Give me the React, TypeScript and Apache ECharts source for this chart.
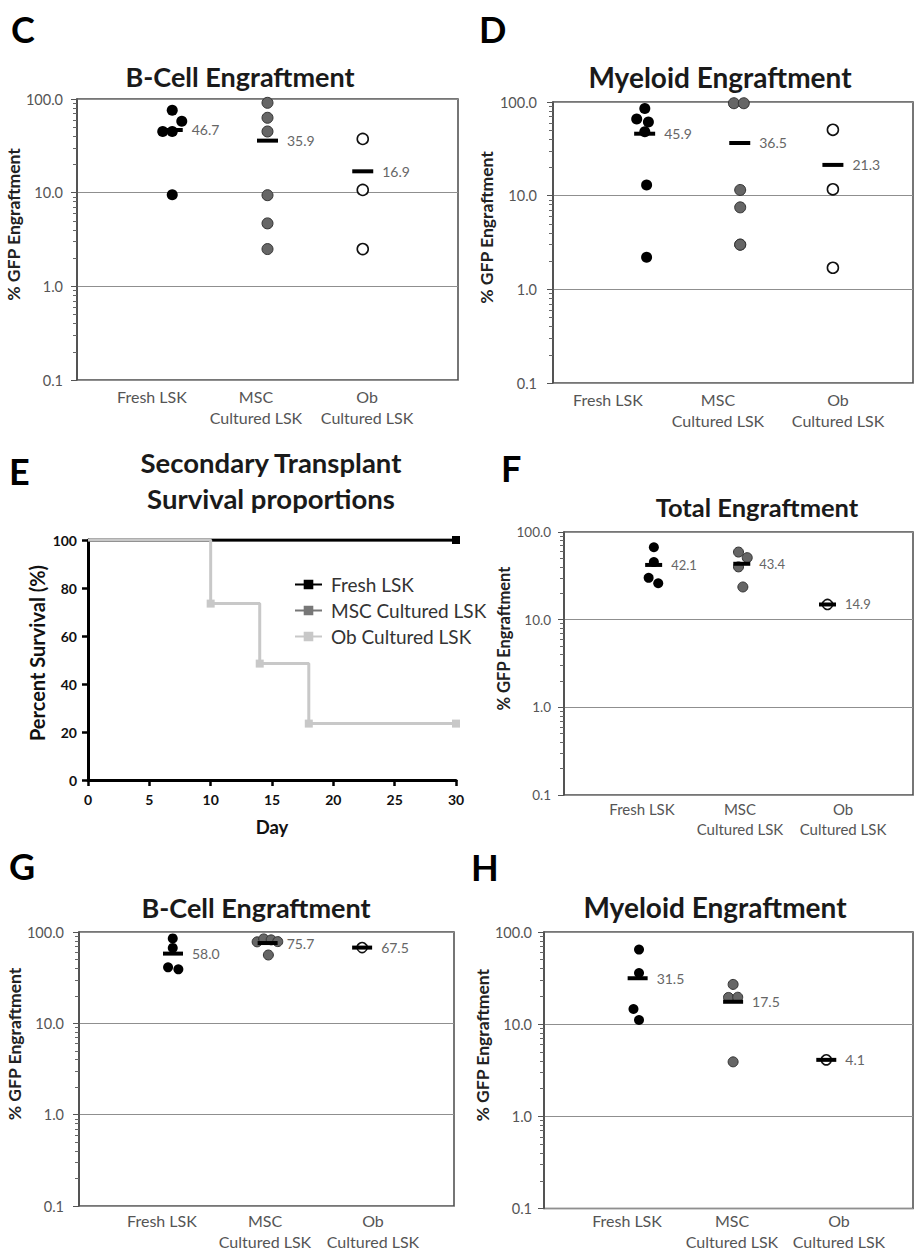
import React, { useEffect, useRef } from 'react';
import * as echarts from 'echarts';

// ---------- categories ----------
const groupLabels = ['Fresh LSK', 'MSC\nCultured LSK', 'Ob\nCultured LSK'];
const survivalNames = ['Fresh LSK', 'MSC Cultured LSK', 'Ob Cultured LSK'];
const minorLogTicks = [0.2, 0.3, 0.4, 0.5, 0.6, 0.7, 0.8, 0.9, 2, 3, 4, 5, 6, 7, 8, 9, 20, 30, 40, 50, 60, 70, 80, 90];
const survivalDayTicks = [0, 5, 10, 15, 20, 25, 30];

// ---------- C: B-Cell engraftment (primary) ----------
const cFresh = [76, 58, 45, 45, 9.5];
const cMsc = [91, 63, 45, 9.4, 4.7, 2.5];
const cOb = [37.5, 10.7, 2.5];
// ---------- D: Myeloid engraftment (primary) ----------
const dFresh = [85, 66, 61, 48, 13, 2.2];
const dMsc = [97, 97, 11.5, 7.5, 3.0, 3.0];
const dOb = [50.5, 11.7, 1.7];
// ---------- E: survival ----------
const freshDays = [0, 30];
const freshSurv = [100, 100];
const mscDays = [0, 30];
const mscSurv = [100, 100];
const obDays = [0, 10, 14, 18, 30];
const obSurv = [100, 73.5, 48.5, 23.5, 23.5];
// ---------- F: Total engraftment ----------
const fFresh = [67, 45.4, 30, 26];
const fMsc = [59, 51, 40, 23.6];
const fOb = [14.9];
// ---------- G: B-Cell engraftment (secondary) ----------
const gFresh = [85, 67, 41, 39];
const gMsc = [78, 84, 82, 78.5, 56];
const gOb = [67.5];
// ---------- H: Myeloid engraftment (secondary) ----------
const hFresh = [64.5, 35.8, 14.6, 11.1];
const hMsc = [27, 19.5, 19.6, 3.9];
const hOb = [4.1];

// ---------- layout (horizontal jitter of overlapping dots, in category units) ----------
const cJit = [[0, 0.1, -0.1, 0, 0], [0, 0, 0, 0, 0, 0], [0, 0, 0]];
const dJit = [[0.02, -0.07, 0.06, 0.02, 0.04, 0.04], [0.01, 0.12, 0.08, 0.08, 0.08, 0.08], [0.11, 0.11, 0.11]];
const fJit = [[0.03, 0.03, -0.03, 0.08], [0, 0.1, 0, 0.05], [0.02]];
const gJit = [[0, 0, -0.05, 0.06], [-0.1, -0.03, 0.05, 0.12, 0.02], [0.02]];
const hJit = [[0.03, 0.03, -0.03, 0.03], [0.05, 0, 0.1, 0.05], [0.06]];

const FONT = 'Lato, "Open Sans", sans-serif';
const mean = (a: number[]) => a.reduce((s, v) => s + v, 0) / a.length;

const groupStyles = [
  { color: '#000000', borderColor: '#000000', borderWidth: 0, opacity: 1 },
  { color: '#666666', borderColor: '#333333', borderWidth: 1, opacity: 1 },
  { color: '#ffffff', borderColor: '#111111', borderWidth: 1.6, opacity: 1 },
];

type Panel = {
  grid: { left: number; top: number; width: number; height: number };
  data: number[][];
  jit: number[][];
  labelPos: number[];
  catFont: number;
  catMargin: number;
  catLH: number;
  tickFont: number;
  tickMargin: number;
  nameGap: number;
  nameShift: number;
  nameFont: number;
  dot: number;
  bar: number[];
  valFont: number;
};

const panels: Panel[] = [
  { grid: { left: 77, top: 99, width: 381, height: 281 }, data: [cFresh, cMsc, cOb], jit: cJit,
    labelPos: [0.787, 1.879, 3.045], catFont: 16, catMargin: 6, catLH: 21, tickFont: 14.5, tickMargin: 14,
    nameGap: 47, nameShift: 15, nameFont: 17.5, dot: 11, bar: [21, 4], valFont: 14 },
  { grid: { left: 553, top: 102, width: 360, height: 281 }, data: [dFresh, dMsc, dOb], jit: dJit,
    labelPos: [0.611, 1.833, 3.167], catFont: 16, catMargin: 6, catLH: 21, tickFont: 14.5, tickMargin: 16,
    nameGap: 58, nameShift: 15, nameFont: 17.5, dot: 11, bar: [21, 4], valFont: 14 },
  { grid: { left: 564, top: 532, width: 349, height: 263 }, data: [fFresh, fMsc, fOb], jit: fJit,
    labelPos: [0.894, 2.017, 3.198], catFont: 15, catMargin: 4, catLH: 20, tickFont: 13.5, tickMargin: 13,
    nameGap: 46, nameShift: 25, nameFont: 16.5, dot: 10, bar: [17, 4], valFont: 13 },
  { grid: { left: 79, top: 932, width: 375, height: 277 }, data: [gFresh, gMsc, gOb], jit: gJit,
    labelPos: [0.885, 1.984, 3.136], catFont: 16, catMargin: 4, catLH: 21, tickFont: 14.5, tickMargin: 15,
    nameGap: 47, nameShift: 25, nameFont: 17.5, dot: 10, bar: [20, 4], valFont: 14 },
  { grid: { left: 544, top: 932, width: 369, height: 277 }, data: [hFresh, hMsc, hOb], jit: hJit,
    labelPos: [0.9, 2.038, 3.198], catFont: 16, catMargin: 1.5, catLH: 21, tickFont: 14.5, tickMargin: 12,
    nameGap: 49, nameShift: 25, nameFont: 17.5, dot: 10, bar: [20, 4], valFont: 14 },
];

const letters = [
  { t: 'C', x: 11, y: 29 },
  { t: 'D', x: 479, y: 29 },
  { t: 'E', x: 9, y: 471 },
  { t: 'F', x: 501, y: 468 },
  { t: 'G', x: 9, y: 866 },
  { t: 'H', x: 471, y: 867 },
];
const titles = [
  { t: 'B-Cell Engraftment', x: 240, y: 76, s: 27 },
  { t: 'Myeloid Engraftment', x: 720, y: 77, s: 28 },
  { t: 'Secondary Transplant', x: 271, y: 462, s: 27.5 },
  { t: 'Survival proportions', x: 271, y: 498, s: 27.5 },
  { t: 'Total Engraftment', x: 757, y: 507, s: 25.5 },
  { t: 'B-Cell Engraftment', x: 256, y: 907, s: 27 },
  { t: 'Myeloid Engraftment', x: 715, y: 907, s: 28 },
];

function buildOption() {
  const grids: any[] = [];
  const xAxes: any[] = [];
  const yAxes: any[] = [];
  const series: any[] = [];

  panels.forEach((p, idx) => {
    grids.push({ ...p.grid, show: true, borderColor: '#4a4a4a', borderWidth: 1.5, containLabel: false });
    xAxes.push({
      gridIndex: idx, type: 'value', min: 0, max: 4,
      axisLine: { show: false }, axisTick: { show: false }, splitLine: { show: false },
      axisLabel: {
        customValues: p.labelPos,
        formatter: (v: number) => {
          const i = p.labelPos.findIndex((x) => Math.abs(x - v) < 1e-6);
          return i >= 0 ? groupLabels[i] : '';
        },
        fontFamily: FONT, fontSize: p.catFont, color: '#555', lineHeight: p.catLH, margin: p.catMargin,
      },
    });
    yAxes.push({
      gridIndex: idx, type: 'log', logBase: 10, min: 0.1, max: 100,
      axisLine: { show: true, lineStyle: { color: '#4a4a4a', width: 1.5 } },
      axisTick: { show: true, length: 6, lineStyle: { color: '#555' } },
      splitLine: { show: true, lineStyle: { color: '#8f8f8f', width: 1.2 } },
      axisLabel: {
        formatter: (v: number) => Number(v).toFixed(1),
        fontFamily: FONT, fontSize: p.tickFont, color: '#555', margin: p.tickMargin,
      },
      name: '% GFP Engraftment', nameLocation: 'middle', nameGap: p.nameGap,
      nameTextStyle: { fontFamily: FONT, fontWeight: 'bold', fontSize: p.nameFont, color: '#222', padding: [0, 0, 0, 2 * p.nameShift] },
    });
  });

  // E: survival panel
  const eIdx = panels.length;
  grids.push({ left: 88, top: 540, width: 368, height: 240, show: false });
  xAxes.push({
    gridIndex: eIdx, type: 'value', min: survivalDayTicks[0], max: survivalDayTicks[survivalDayTicks.length - 1], interval: 5,
    axisLine: { show: true, lineStyle: { color: '#000', width: 3 } },
    axisTick: { show: true, length: 6, lineStyle: { color: '#000', width: 2.5 } },
    splitLine: { show: false },
    axisLabel: { fontFamily: FONT, fontWeight: 'bold', fontSize: 14, color: '#111', margin: 12 },
    name: 'Day', nameLocation: 'middle', nameGap: 37,
    nameTextStyle: { fontFamily: FONT, fontWeight: 'bold', fontSize: 18.5, color: '#111' },
  });
  yAxes.push({
    gridIndex: eIdx, type: 'value', min: 0, max: 100, interval: 20,
    axisLine: { show: true, lineStyle: { color: '#000', width: 3 } },
    axisTick: { show: true, length: 6, lineStyle: { color: '#000', width: 2.5 } },
    splitLine: { show: false },
    axisLabel: { fontFamily: FONT, fontWeight: 'bold', fontSize: 14, color: '#111', margin: 11 },
    name: 'Percent Survival (%)', nameLocation: 'middle', nameGap: 41,
    nameTextStyle: { fontFamily: FONT, fontWeight: 'bold', fontSize: 20, color: '#111', padding: [0, 0, 0, 14] },
  });

  // minor log ticks (separate overlay axes, one per dot-plot grid)
  panels.forEach((p, idx) => {
    yAxes.push({
      gridIndex: idx, type: 'log', logBase: 10, min: 0.1, max: 100, position: 'left', offset: 0,
      axisLine: { show: false },
      axisTick: { show: true, length: 4, customValues: minorLogTicks, lineStyle: { color: '#666', width: 1 } },
      axisLabel: { show: false }, splitLine: { show: false },
    });
  });

  panels.forEach((p, idx) => {
    p.data.forEach((vals, g) => {
      series.push({
        type: 'scatter', xAxisIndex: idx, yAxisIndex: idx, symbolSize: p.dot, silent: true, z: 2,
        itemStyle: groupStyles[g],
        data: vals.map((v, i) => [g + 1 + p.jit[g][i], v]),
      });
    });
    series.push({
      type: 'scatter', xAxisIndex: idx, yAxisIndex: idx, symbol: 'rect', symbolSize: p.bar, silent: true, z: 3,
      itemStyle: { color: '#000', opacity: 1 },
      data: p.data.map((vals, g) => [g + 1 + mean(p.jit[g]), mean(vals)]),
      label: {
        show: true, position: 'right', distance: 9,
        formatter: (pr: any) => Number(pr.value[1]).toFixed(1),
        fontFamily: FONT, fontSize: p.valFont, color: '#666',
      },
    });
  });

  const survData = (days: number[], vals: number[]) =>
    days.map((d, i) => ({ value: [d, vals[i]], symbolSize: i === 0 ? 0 : 8 }));
  series.push({
    name: survivalNames[1], type: 'line', xAxisIndex: eIdx, yAxisIndex: eIdx, symbol: 'rect', symbolSize: 8, z: 2,
    lineStyle: { color: '#777', width: 3 }, itemStyle: { color: '#777' }, data: survData(mscDays, mscSurv),
  });
  series.push({
    name: survivalNames[0], type: 'line', xAxisIndex: eIdx, yAxisIndex: eIdx, symbol: 'rect', symbolSize: 8, z: 3,
    lineStyle: { color: '#000', width: 3 }, itemStyle: { color: '#000' }, data: survData(freshDays, freshSurv),
  });
  series.push({
    name: survivalNames[2], type: 'line', step: 'end', xAxisIndex: eIdx, yAxisIndex: eIdx, symbol: 'rect', symbolSize: 8, z: 4,
    lineStyle: { color: '#c8c8c8', width: 3 }, itemStyle: { color: '#c8c8c8' }, data: survData(obDays, obSurv),
  });

  const graphics: any[] = [];
  letters.forEach((l) => {
    graphics.push({
      type: 'text', x: l.x, y: l.y, silent: true,
      style: { text: l.t, fill: '#000', fontFamily: FONT, fontWeight: 'bold', fontSize: 36, textAlign: 'left', textVerticalAlign: 'middle', align: 'left', verticalAlign: 'middle' },
    });
  });
  titles.forEach((t) => {
    graphics.push({
      type: 'text', x: t.x, y: t.y, silent: true,
      style: { text: t.t, fill: '#1a1a1a', fontFamily: FONT, fontWeight: 'bold', fontSize: t.s, textAlign: 'center', textVerticalAlign: 'middle', align: 'center', verticalAlign: 'middle' },
    });
  });

  return {
    animation: false,
    backgroundColor: '#ffffff',
    textStyle: { fontFamily: FONT },
    grid: grids,
    xAxis: xAxes,
    yAxis: yAxes,
    series,
    legend: {
      data: survivalNames, orient: 'vertical', left: 289, top: 570, itemWidth: 27, itemHeight: 12, itemGap: 7,
      textStyle: { fontFamily: FONT, fontSize: 19, color: '#333', padding: [0, 0, 0, 4] },
    },
    graphic: graphics,
  };
}

export default function App() {
  const ref = useRef<HTMLDivElement>(null);
  useEffect(() => {
    if (!ref.current) return;
    const chart = echarts.init(ref.current, null, { renderer: 'svg' });
    chart.setOption(buildOption() as any);
    return () => chart.dispose();
  }, []);
  return (
    <div
      ref={ref}
      style={{ position: 'absolute', left: 0, top: 0, width: 915, height: 1252, background: '#fff' }}
    />
  );
}
